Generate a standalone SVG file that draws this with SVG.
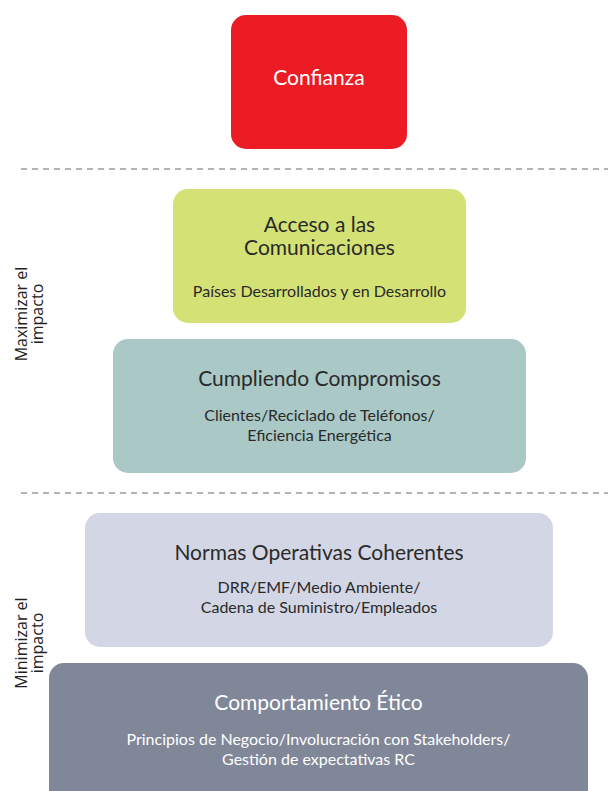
<svg xmlns="http://www.w3.org/2000/svg" width="608" height="791" viewBox="0 0 608 791">
<style>
.t{font-family:Lato,"Liberation Sans",sans-serif;text-anchor:middle;fill:#2a2a2a}
.h{font-size:21px}
.s{font-size:16px}
.w{fill:#ffffff}
.side{font-family:"Open Sans","Liberation Sans",sans-serif;font-size:16px;text-anchor:middle;fill:#222}
.dash{stroke:#9a9a9a;stroke-width:1.5;stroke-dasharray:6 5;fill:none}
</style>
<rect width="608" height="791" fill="#ffffff"/>
<g id="separators">
<line class="dash" x1="21" y1="169" x2="608" y2="169"/>
<line class="dash" x1="21" y1="493" x2="608" y2="493"/>
</g>
<g id="side-labels">
<text class="side" transform="translate(27,314) rotate(-90)">Maximizar el</text>
<text class="side" transform="translate(43,314) rotate(-90)">impacto</text>
<text class="side" transform="translate(27,643) rotate(-90)">Minimizar el</text>
<text class="side" transform="translate(43,643) rotate(-90)">impacto</text>
</g>
<g id="confianza">
<rect x="231" y="15" width="176" height="134" rx="15" fill="#ec1c24"/>
<text class="t h w" x="319" y="85">Confianza</text>
</g>
<g id="acceso">
<rect x="173" y="189" width="293" height="134" rx="15" fill="#d4e175"/>
<text class="t h" x="319.5" y="232">Acceso a las</text>
<text class="t h" x="319.5" y="255">Comunicaciones</text>
<text class="t s" x="319.5" y="297">Países Desarrollados y en Desarrollo</text>
</g>
<g id="cumpliendo">
<rect x="113" y="339" width="413" height="134" rx="15" fill="#a9c8c6"/>
<text class="t h" x="319.5" y="386">Cumpliendo Compromisos</text>
<text class="t s" x="319.5" y="421">Clientes/Reciclado de Teléfonos/</text>
<text class="t s" x="319.5" y="441">Eficiencia Energética</text>
</g>
<g id="normas">
<rect x="85" y="513" width="468" height="134" rx="15" fill="#d3d6e4"/>
<text class="t h" x="319" y="560">Normas Operativas Coherentes</text>
<text class="t s" x="319" y="593">DRR/EMF/Medio Ambiente/</text>
<text class="t s" x="319" y="613">Cadena de Suministro/Empleados</text>
</g>
<g id="comportamiento">
<rect x="49" y="663" width="539" height="145" rx="15" fill="#7f8799"/>
<text class="t h w" x="318.5" y="710">Comportamiento Ético</text>
<text class="t s w" x="318.5" y="745">Principios de Negocio/Involucración con Stakeholders/</text>
<text class="t s w" x="318.5" y="765">Gestión de expectativas RC</text>
</g>
</svg>
